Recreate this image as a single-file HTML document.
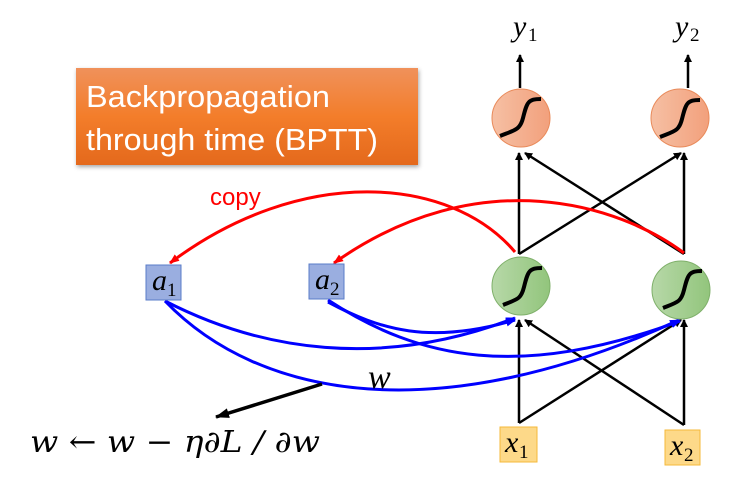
<!DOCTYPE html>
<html><head><meta charset="utf-8"><style>
body{margin:0;background:#fff;width:739px;height:481px;overflow:hidden}
svg text{font-family:"Liberation Serif",serif}
.s{font-style:normal}
</style></head><body>
<svg width="739" height="481" viewBox="0 0 739 481" xmlns="http://www.w3.org/2000/svg">
<defs>
<linearGradient id="tg" x1="0" y1="0" x2="0" y2="1"><stop offset="0" stop-color="#f0915a"/><stop offset="0.5" stop-color="#f37d2a"/><stop offset="1" stop-color="#e4691c"/></linearGradient>
<linearGradient id="og" x1="0" y1="0" x2="1" y2="0"><stop offset="0" stop-color="#f6c0a4"/><stop offset="1" stop-color="#f2a07c"/></linearGradient>
<linearGradient id="gg" x1="0" y1="0" x2="1" y2="0"><stop offset="0" stop-color="#b7d8a8"/><stop offset="1" stop-color="#92c57c"/></linearGradient>
<marker id="ak" markerWidth="8" markerHeight="8" refX="7" refY="4" orient="auto" markerUnits="userSpaceOnUse"><path d="M0,0 L8,4 L0,8 Z" fill="#000"/></marker>
<marker id="ar" markerWidth="10" markerHeight="8" refX="9" refY="4" orient="auto" markerUnits="userSpaceOnUse"><path d="M0,0 L10,4 L0,8 Z" fill="#f00"/></marker>
<marker id="ab" markerWidth="10" markerHeight="8" refX="9" refY="4" orient="auto" markerUnits="userSpaceOnUse"><path d="M0,0 L10,4 L0,8 Z" fill="#00f"/></marker>
<marker id="ak2" markerWidth="14" markerHeight="10" refX="13" refY="5" orient="auto" markerUnits="userSpaceOnUse"><path d="M0,0 L14,5 L0,10 Z" fill="#000"/></marker>
</defs>
<rect x="76" y="68" width="342" height="97" fill="url(#tg)" style="filter:drop-shadow(1px 2px 2px rgba(0,0,0,0.35))"/>
<text x="86" y="107" fill="#fff" font-size="31" textLength="244" lengthAdjust="spacingAndGlyphs" style="font-family:'Liberation Sans',sans-serif">Backpropagation</text>
<text x="86" y="150" fill="#fff" font-size="31" textLength="292" lengthAdjust="spacingAndGlyphs" style="font-family:'Liberation Sans',sans-serif">through time (BPTT)</text>

<g stroke="#000" stroke-width="2.5" fill="none">
<line x1="520" y1="88" x2="520" y2="55" marker-end="url(#ak)"/>
<line x1="688" y1="88" x2="688" y2="55" marker-end="url(#ak)"/>
<line x1="519" y1="254" x2="519" y2="153" marker-end="url(#ak)"/>
<line x1="519" y1="254" x2="681" y2="153" marker-end="url(#ak)"/>
<line x1="684" y1="254" x2="684" y2="153" marker-end="url(#ak)"/>
<line x1="684" y1="254" x2="525" y2="153" marker-end="url(#ak)"/>
<line x1="519" y1="423" x2="519" y2="320" marker-end="url(#ak)"/>
<line x1="519" y1="423" x2="681" y2="320" marker-end="url(#ak)"/>
<line x1="684" y1="425" x2="684" y2="320" marker-end="url(#ak)"/>
<line x1="684" y1="425" x2="525" y2="320" marker-end="url(#ak)"/>
</g>
<g stroke="#f00" stroke-width="3" fill="none">
<path d="M515,252 C450,175 300,165 170,263" marker-end="url(#ar)"/>
<path d="M684,253 C620,205 480,160 334,263" marker-end="url(#ar)"/>
</g>
<text x="210" y="205" fill="#f00" font-size="24" style="font-family:'Liberation Sans',sans-serif">copy</text>
<g stroke="#00f" stroke-width="3" fill="none">
<path d="M165,301 C260,350 380,370 515,318" marker-end="url(#ab)"/>
<path d="M165,301 C260,400 440,430 679,320" marker-end="url(#ab)"/>
<path d="M328,302 C380,330 430,345 515,320" marker-end="url(#ab)"/>
<path d="M328,300 C420,360 520,380 680,321" marker-end="url(#ab)"/>
</g>
<circle cx="521" cy="118" r="29" fill="url(#og)" stroke="#e98a5a" stroke-width="1"/>
<circle cx="680" cy="118" r="29" fill="url(#og)" stroke="#e98a5a" stroke-width="1"/>
<circle cx="521" cy="286" r="29" fill="url(#gg)" stroke="#7fb06a" stroke-width="1"/>
<circle cx="681" cy="290" r="29" fill="url(#gg)" stroke="#7fb06a" stroke-width="1"/>
<g stroke="#000" stroke-width="4" fill="none">
<path d="M500,136 C515,130 520,130 523,118 C527,102 528,99 541,99"/>
<path d="M660,137 C675,131 679,131 682,119 C686,103 687,100 700,100"/>
<path d="M503,305 C518,299 521,299 524,287 C528,271 529,268 542,268"/>
<path d="M663,308 C678,302 681,302 684,290 C688,274 689,271 702,271"/>
</g>
<rect x="146" y="265" width="35" height="35" fill="#9aaee0" stroke="#5a7cc8"/>
<rect x="309" y="264" width="35" height="35" fill="#9aaee0" stroke="#5a7cc8"/>
<rect x="500" y="427" width="37" height="35" fill="#fdd989" stroke="#f5b93a"/>
<rect x="665" y="430" width="35" height="35" fill="#fdd989" stroke="#f5b93a"/>
<g font-style="italic" font-size="30">
<text x="152" y="290">a</text><text class="s" x="167" y="296" font-size="19">1</text>
<text x="315" y="289">a</text><text class="s" x="330" y="295" font-size="19">2</text>
<text x="505" y="452">x</text><text class="s" x="519" y="458" font-size="19">1</text>
<text x="670" y="455">x</text><text class="s" x="684" y="461" font-size="19">2</text>
<text x="513" y="36">y</text><text class="s" x="528" y="41" font-size="19">1</text>
<text x="675" y="36">y</text><text class="s" x="690" y="41" font-size="19">2</text>
<text x="368" y="388" font-size="34">w</text>
</g>
<line x1="322" y1="384" x2="216" y2="417" stroke="#000" stroke-width="3.5" marker-end="url(#ak2)"/>
<text x="30" y="452" font-size="30" font-style="italic" style="font-family:'DejaVu Serif','Liberation Serif',serif" textLength="290" lengthAdjust="spacingAndGlyphs">w ← w − η∂L / ∂w</text>
</svg>
</body></html>
